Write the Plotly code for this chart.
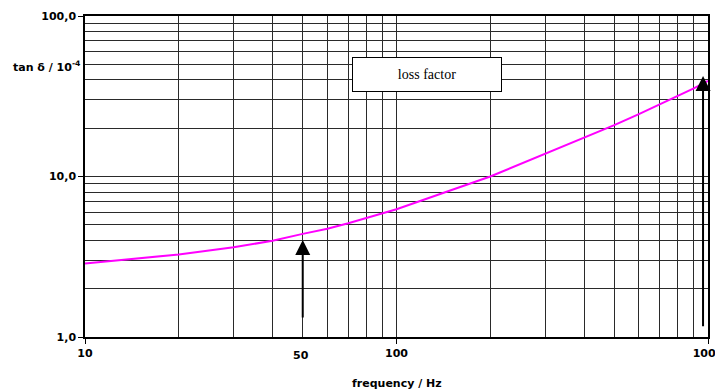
import math
import plotly.graph_objects as go

# ---- data ----
freq_hz = [10, 20, 30, 40, 50, 60, 70, 80, 90, 100, 200, 300, 400, 500, 600, 700, 800, 900, 1000]
tan_delta = [2.87, 3.27, 3.62, 3.98, 4.39, 4.73, 5.11, 5.51, 5.90, 6.25,
             10.0, 13.8, 17.5, 20.9, 24.5, 28.2, 31.7, 35.4, 39.4]
series_name = "loss factor"

x_tick_vals = [10, 100, 1000]
x_tick_text = ["10", "100", "1000"]
x_extra_label_val = 50
x_extra_label_text = "50"
y_tick_vals = [1, 10, 100]
y_tick_text = ["1,0", "10,0", "100,0"]

# arrows: (x, tail y, tip y)
arrow_x = [50, 964]
arrow_tail = [1.295, 1.14]
arrow_tip = [4.02, 42.3]

x_title = "frequency / Hz"
y_title = "tan δ / 10<sup>-4</sup>"

label_font = dict(family="DejaVu Sans", size=11, color="black")

minor_x = [m * 10 ** d for d in (1, 2) for m in range(2, 10)]
minor_y = [m * 10 ** d for d in (0, 1) for m in range(2, 10)]

fig = go.Figure()
fig.add_trace(go.Scatter(
    x=freq_hz, y=tan_delta, mode="lines", name=series_name,
    line=dict(color="#FF00FF", width=2), showlegend=False,
))

grid_col = "#2a2a2a"
fig.update_xaxes(
    type="log", range=[1, 3], automargin=False,
    tickvals=x_tick_vals, ticktext=[f"<b>{t}</b>" for t in x_tick_text],
    ticks="outside", ticklen=5, tickcolor="black", tickwidth=1,
    tickfont=label_font, ticklabeloverflow="allow",
    showgrid=True, gridcolor=grid_col, gridwidth=1,
    minor=dict(tickvals=minor_x, showgrid=True, gridcolor=grid_col, gridwidth=1, ticks=""),
    showline=True, linecolor="black", linewidth=1.5, mirror=True,
    zeroline=False,
)
fig.update_yaxes(
    type="log", range=[0, 2], automargin=False,
    tickvals=y_tick_vals, ticktext=[f"<b>{t}</b>" for t in y_tick_text],
    ticks="outside", ticklen=5, tickcolor="black", tickwidth=1,
    tickfont=label_font, ticklabeloverflow="allow",
    showgrid=True, gridcolor=grid_col, gridwidth=1,
    minor=dict(tickvals=minor_y, showgrid=True, gridcolor=grid_col, gridwidth=1, ticks=""),
    showline=True, linecolor="black", linewidth=1.5, mirror=True,
    zeroline=False,
)

annotations = []
# extra "50" label (no tick mark in the reference)
annotations.append(dict(
    x=math.log10(x_extra_label_val), y=0, xref="x", yref="paper",
    text=f"<b>{x_extra_label_text}</b>", showarrow=False,
    yanchor="top", yshift=-10, xshift=-2, font=label_font,
))
# axis titles
annotations.append(dict(
    x=0.5, y=0, xref="paper", yref="paper", text=f"<b>{x_title}</b>",
    showarrow=False, yanchor="middle", yshift=-46, font=label_font,
))
annotations.append(dict(
    x=0, y=(337 - 66) / 321, xref="paper", yref="paper", text=f"<b>{y_title}</b>",
    showarrow=False, xanchor="right", yanchor="middle", xshift=-3, font=label_font,
))
# legend-like box
annotations.append(dict(
    x=(427 - 85) / 623, y=(337 - 74.5) / 321, xref="paper", yref="paper",
    text=series_name, showarrow=False, xanchor="center", yanchor="middle",
    width=144, height=29, bgcolor="white", bordercolor="black", borderwidth=1, borderpad=2,
    font=dict(family="Liberation Serif", size=14, color="black"),
))
# arrows
for ax_, tail, tip in zip(arrow_x, arrow_tail, arrow_tip):
    annotations.append(dict(
        x=math.log10(ax_), y=math.log10(tip), xref="x", yref="y",
        ax=math.log10(ax_), ay=math.log10(tail), axref="x", ayref="y",
        text="", showarrow=True, arrowhead=2, arrowsize=1.5, arrowwidth=2,
        arrowcolor="black",
    ))

# the page body adds an 8px offset, so the figure is sized to fit the window
fig.update_layout(
    width=715, height=382,
    margin=dict(l=77, r=15, t=8, b=53, autoexpand=False),
    paper_bgcolor="white", plot_bgcolor="white",
    annotations=annotations,
    font=label_font,
)

fig.write_html("out.html")
